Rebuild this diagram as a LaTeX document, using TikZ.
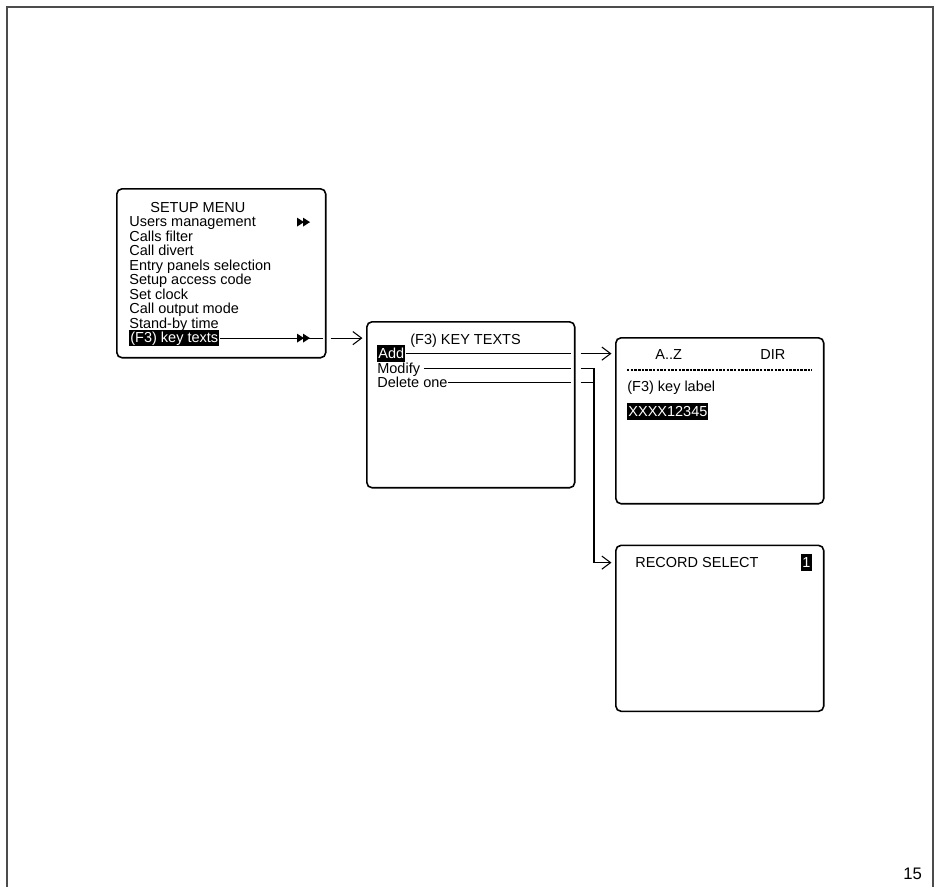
\documentclass[tikz,border=0pt]{standalone}
\usepackage{fontspec}
\setmainfont{Liberation Sans}
\usetikzlibrary{positioning, arrows.meta, calc}

\tikzset{
  fastfwd/.pic={
    \fill (0,-4.5) -- (7,0) -- (0,4.5) -- cycle;
    \fill (6,-4.5) -- (13,0) -- (6,4.5) -- cycle;
  }
}

\begin{document}
\begin{tikzpicture}[
  x=0.02cm, y=-0.02cm,
  screen/.style={rectangle, draw, rounded corners=3pt, line width=0.9pt,
    anchor=north west, inner sep=0pt, minimum width=4.16cm, minimum height=3.32cm},
  item/.style={anchor=base west, inner sep=0pt, text height=0.7em, text depth=0.2em,
    font=\fontsize{8.25pt}{9pt}\selectfont},
  hilite/.style={item, fill=black, text=white, inner xsep=0.6pt, inner ysep=0.2pt},
  link/.style={line width=0.6pt},
  arrow/.style={link, -{Straight Barb[length=5pt, width=7.5pt]}, shorten >=2pt}
]
  \useasboundingbox (0,0) rectangle (939,887);
  % page frame
  \draw[black!70, line width=0.6pt] (7,887) -- (7,7) -- (933,7) -- (933,887);
  \node[item, font=\fontsize{9.5pt}{10pt}\selectfont] (pageno) at (903,879) {15};

  % Screens
  \node[screen, minimum width=4.18cm, minimum height=3.38cm] (setup) at (116,188) {};
  \node[screen] (keytexts) at (366,321) {};
  \node[screen] (keylabel) at (615,337) {};
  \node[screen, below=0.8cm of keylabel, anchor=north] (record) {};

  % Setup menu
  \node[item] (title1) at (150,212) {SETUP MENU};
  \foreach \txt [count=\i] in {Users management, Calls filter, Call divert,
      Entry panels selection, Setup access code, Set clock, Call output mode, Stand-by time}
    \node[item] (m\i) at (129,{212+14.5*\i}) {\txt};
  \node[hilite] (m9) at (129,342.5) {(F3) key texts};
  \coordinate (ffcol) at (297,0);
  \pic at (ffcol |- m1.east) {fastfwd};

  % Key texts menu
  \node[item] (title2) at (410,344) {(F3) KEY TEXTS};
  \node[hilite] (add) at (377,358) {Add};
  \node[item] (modify) at (377,373) {Modify};
  \node[item] (delone) at (377,387) {Delete one};

  % Key label screen
  \node[item] (az) at (655,359) {A..Z};
  \node[item] (dir) at (760,359) {DIR};
  \draw[line width=0.7pt, dash pattern=on 1.4pt off 0.7pt] (627,370) -- (812,370);
  \node[item] (f3label) at (627,391) {(F3) key label};
  \node[hilite] (xxxx) at (627,416) {XXXX12345\hspace{6pt}};

  % Record select screen
  \node[item] (recsel) at (635,567) {RECORD SELECT};
  \node[hilite] (recno) at (801,567) {1};

  % Arrows
  \draw[link] (m9.east) -- ($(setup.east |- m9.east)+(-4,0)$);
  \pic at (ffcol |- m9.east) {fastfwd};
  \draw[arrow] ($(setup.east |- m9.east)+(4,0)$) -- (keytexts.west |- m9.east);

  \draw[link] (add.east) -- ($(keytexts.east |- add.east)+(-5,0)$);
  \draw[link] ([xshift=2pt]modify.east) -- ($(keytexts.east |- modify.east)+(-5,0)$);
  \draw[link] (delone.east) -- ($(keytexts.east |- delone.east)+(-5,0)$);

  \draw[arrow] ($(keytexts.east |- add.east)+(5,0)$) -- (keylabel.west |- add.east);
  \coordinate (trunk) at (594,0);
  \draw[arrow] ($(keytexts.east |- modify.east)+(5,0)$) -- (trunk |- modify.east)
    |- (record.west |- recsel.east);
  \draw[link] ($(keytexts.east |- delone.east)+(5,0)$) -- (trunk |- delone.east);
\end{tikzpicture}
\end{document}
